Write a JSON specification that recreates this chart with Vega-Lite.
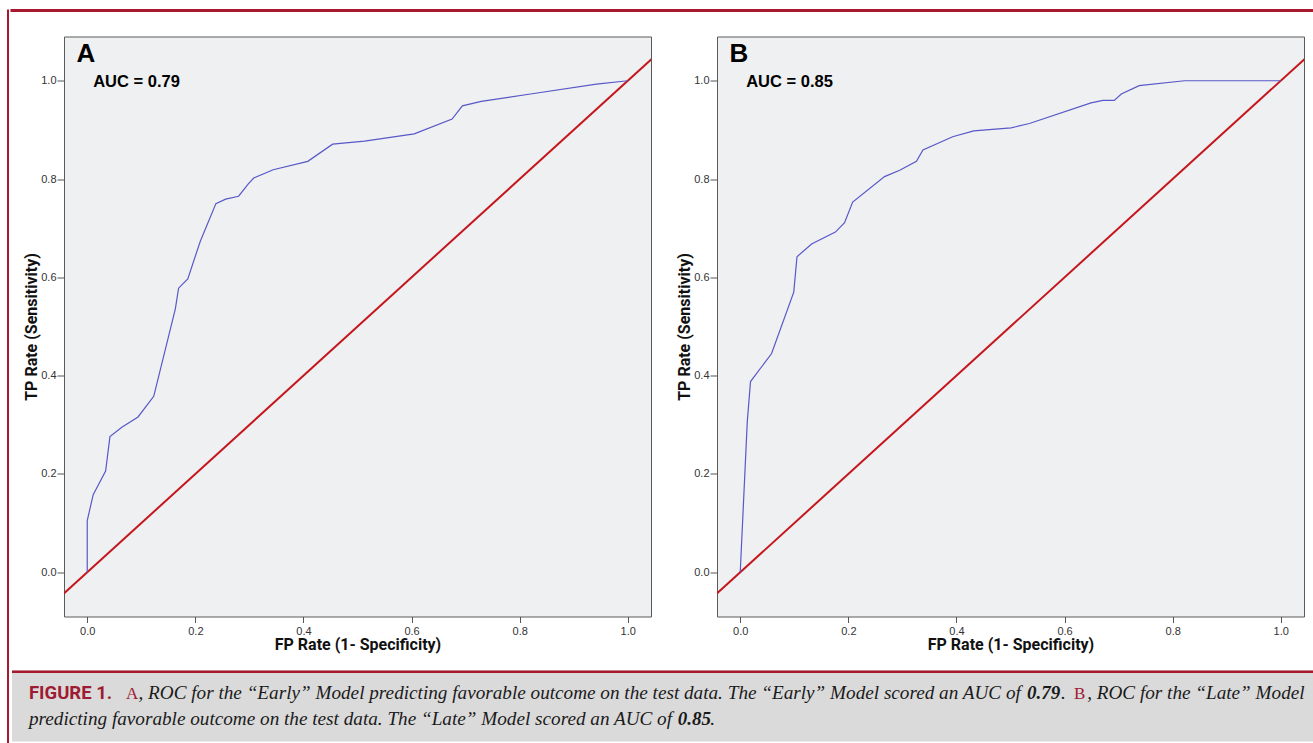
{
  "$schema": "https://vega.github.io/schema/vega-lite/v6.json",
  "background": "white",
  "padding": {"left": 7, "top": 8.5, "right": 0, "bottom": 0},
  "config": {
    "view": {"stroke": null},
    "axis": {"grid": false, "domain": false, "tickColor": "#555", "labelFont": "Liberation Sans", "labelFontSize": 11, "labelColor": "#333", "titleFont": "Roboto", "titleFontSize": 16, "titleFontWeight": "bold", "titleColor": "#111"}
  },
  "datasets": {
    "roc": [
      {"panel": "A", "i": 0, "x": 0, "y": 0},
      {"panel": "A", "i": 1, "x": 0, "y": 0.105},
      {"panel": "A", "i": 2, "x": 0.011, "y": 0.158},
      {"panel": "A", "i": 3, "x": 0.034, "y": 0.206},
      {"panel": "A", "i": 4, "x": 0.042, "y": 0.276},
      {"panel": "A", "i": 5, "x": 0.064, "y": 0.295},
      {"panel": "A", "i": 6, "x": 0.094, "y": 0.316},
      {"panel": "A", "i": 7, "x": 0.123, "y": 0.358},
      {"panel": "A", "i": 8, "x": 0.163, "y": 0.536},
      {"panel": "A", "i": 9, "x": 0.169, "y": 0.578},
      {"panel": "A", "i": 10, "x": 0.186, "y": 0.597},
      {"panel": "A", "i": 11, "x": 0.209, "y": 0.673},
      {"panel": "A", "i": 12, "x": 0.238, "y": 0.75},
      {"panel": "A", "i": 13, "x": 0.256, "y": 0.759},
      {"panel": "A", "i": 14, "x": 0.28, "y": 0.765},
      {"panel": "A", "i": 15, "x": 0.298, "y": 0.79},
      {"panel": "A", "i": 16, "x": 0.308, "y": 0.802},
      {"panel": "A", "i": 17, "x": 0.344, "y": 0.819},
      {"panel": "A", "i": 18, "x": 0.408, "y": 0.836},
      {"panel": "A", "i": 19, "x": 0.454, "y": 0.871},
      {"panel": "A", "i": 20, "x": 0.513, "y": 0.877},
      {"panel": "A", "i": 21, "x": 0.605, "y": 0.892},
      {"panel": "A", "i": 22, "x": 0.675, "y": 0.922},
      {"panel": "A", "i": 23, "x": 0.694, "y": 0.949},
      {"panel": "A", "i": 24, "x": 0.729, "y": 0.958},
      {"panel": "A", "i": 25, "x": 0.82, "y": 0.973},
      {"panel": "A", "i": 26, "x": 0.942, "y": 0.993},
      {"panel": "A", "i": 27, "x": 1.0, "y": 1.0},
      {"panel": "B", "i": 0, "x": 0, "y": 0},
      {"panel": "B", "i": 1, "x": 0.013, "y": 0.306},
      {"panel": "B", "i": 2, "x": 0.019, "y": 0.388},
      {"panel": "B", "i": 3, "x": 0.058, "y": 0.445},
      {"panel": "B", "i": 4, "x": 0.099, "y": 0.57},
      {"panel": "B", "i": 5, "x": 0.105, "y": 0.642},
      {"panel": "B", "i": 6, "x": 0.132, "y": 0.668},
      {"panel": "B", "i": 7, "x": 0.176, "y": 0.692},
      {"panel": "B", "i": 8, "x": 0.193, "y": 0.711},
      {"panel": "B", "i": 9, "x": 0.208, "y": 0.753},
      {"panel": "B", "i": 10, "x": 0.267, "y": 0.805},
      {"panel": "B", "i": 11, "x": 0.295, "y": 0.818},
      {"panel": "B", "i": 12, "x": 0.326, "y": 0.836},
      {"panel": "B", "i": 13, "x": 0.338, "y": 0.859},
      {"panel": "B", "i": 14, "x": 0.393, "y": 0.886},
      {"panel": "B", "i": 15, "x": 0.432, "y": 0.898},
      {"panel": "B", "i": 16, "x": 0.501, "y": 0.904},
      {"panel": "B", "i": 17, "x": 0.535, "y": 0.913},
      {"panel": "B", "i": 18, "x": 0.649, "y": 0.955},
      {"panel": "B", "i": 19, "x": 0.671, "y": 0.96},
      {"panel": "B", "i": 20, "x": 0.692, "y": 0.96},
      {"panel": "B", "i": 21, "x": 0.705, "y": 0.973},
      {"panel": "B", "i": 22, "x": 0.738, "y": 0.99},
      {"panel": "B", "i": 23, "x": 0.822, "y": 1.0},
      {"panel": "B", "i": 24, "x": 1.0, "y": 1.0}
    ],
    "ref": [{"x": -0.1, "y": -0.1}, {"x": 1.1, "y": 1.1}],
    "ann": [
      {"panel": "A", "kind": "letter", "label": "A", "x": -0.02, "y": 1.039},
      {"panel": "A", "kind": "auc", "label": "AUC = 0.79", "x": 0.011, "y": 0.987},
      {"panel": "B", "kind": "letter", "label": "B", "x": -0.02, "y": 1.039},
      {"panel": "B", "kind": "auc", "label": "AUC = 0.85", "x": 0.011, "y": 0.987}
    ],
    "caption": [
      {"part": "label", "x": 0.013, "y": 0.408, "text": "FIGURE 1."},
      {"part": "letter", "x": 0.0875, "y": 0.408, "text": "A"},
      {"part": "body", "x": 0.097, "y": 0.408, "text": ", ROC for the “Early” Model predicting favorable outcome on the test data. The “Early” Model scored an AUC of"},
      {"part": "value", "x": 0.7784, "y": 0.408, "text": "0.79"},
      {"part": "body", "x": 0.8045, "y": 0.408, "text": "."},
      {"part": "letter", "x": 0.8145, "y": 0.408, "text": "B"},
      {"part": "body", "x": 0.8245, "y": 0.408, "text": ", ROC for the “Late” Model"},
      {"part": "body", "x": 0.013, "y": 0.77, "text": "predicting favorable outcome on the test data. The “Late” Model scored an AUC of"},
      {"part": "value", "x": 0.5105, "y": 0.77, "text": "0.85"},
      {"part": "body", "x": 0.5355, "y": 0.77, "text": "."}
    ]
  },
  "spacing": 0,
  "resolve": {"scale": {"x": "independent", "y": "independent"}},
  "hconcat": [
    {
      "width": 0.01, "height": 732,
      "view": {"stroke": "#a6192e", "strokeWidth": 2, "fill": null},
      "data": {"values": []},
      "mark": {"type": "point", "opacity": 0},
      "encoding": {}
    },
    {
      "spacing": 17,
      "resolve": {"scale": {"x": "independent", "y": "independent"}},
      "vconcat": [
        {
          "spacing": 23,
          "resolve": {"scale": {"x": "independent", "y": "independent"}},
          "vconcat": [
            {
              "width": 1300, "height": 0.01,
              "view": {"stroke": "#a6192e", "strokeWidth": 3, "fill": null},
              "data": {"values": []},
              "mark": {"type": "point", "opacity": 0},
              "encoding": {}
            },
            {
              "spacing": 10,
              "resolve": {"scale": {"x": "independent", "y": "independent"}},
              "hconcat": [
                {
                  "width": 0.01, "height": 1,
                  "data": {"values": []},
                  "mark": {"type": "point", "opacity": 0},
                  "encoding": {}
                },
                {
                  "spacing": 24,
                  "resolve": {"scale": {"x": "independent", "y": "independent"}},
                  "hconcat": [
                    {
                      "width": 587, "height": 580,
                      "view": {"fill": "#eff0f2", "stroke": "#5a5a5a", "strokeWidth": 1},
                      "encoding": {
                        "x": {"field": "x", "type": "quantitative", "scale": {"domain": [-0.043, 1.043], "nice": false, "zero": false}, "axis": {"values": [0, 0.2, 0.4, 0.6, 0.8, 1], "format": ".1f", "title": "FP Rate (1- Specificity)", "tickSize": 6, "labelPadding": 3, "titlePadding": 0}},
                        "y": {"field": "y", "type": "quantitative", "scale": {"domain": [-0.09, 1.09], "nice": false, "zero": false}, "axis": {"values": [0, 0.2, 0.4, 0.6, 0.8, 1], "format": ".1f", "title": "TP Rate (Sensitivity)", "tickSize": 7, "labelPadding": 1, "titlePadding": 1}}
                      },
                      "layer": [
                        {"data": {"name": "ref"}, "mark": {"type": "line", "color": "#c4161c", "strokeWidth": 2, "clip": true}},
                        {"data": {"name": "roc"}, "transform": [{"filter": "datum.panel === 'A'"}], "mark": {"type": "line", "color": "#5858c8", "strokeWidth": 1.2}, "encoding": {"order": {"field": "i", "type": "quantitative"}}},
                        {"data": {"name": "ann"}, "transform": [{"filter": "datum.panel === 'A' && datum.kind === 'letter'"}], "mark": {"type": "text", "align": "left", "baseline": "alphabetic", "font": "Liberation Sans", "fontWeight": "bold", "fontSize": 26, "color": "#000"}, "encoding": {"text": {"field": "label"}}},
                        {"data": {"name": "ann"}, "transform": [{"filter": "datum.panel === 'A' && datum.kind === 'auc'"}], "mark": {"type": "text", "align": "left", "baseline": "alphabetic", "font": "Liberation Sans", "fontWeight": "bold", "fontSize": 16.5, "color": "#000"}, "encoding": {"text": {"field": "label"}}}
                      ]
                    },
                    {
                      "width": 587, "height": 580,
                      "view": {"fill": "#eff0f2", "stroke": "#5a5a5a", "strokeWidth": 1},
                      "encoding": {
                        "x": {"field": "x", "type": "quantitative", "scale": {"domain": [-0.043, 1.043], "nice": false, "zero": false}, "axis": {"values": [0, 0.2, 0.4, 0.6, 0.8, 1], "format": ".1f", "title": "FP Rate (1- Specificity)", "tickSize": 6, "labelPadding": 3, "titlePadding": 0}},
                        "y": {"field": "y", "type": "quantitative", "scale": {"domain": [-0.09, 1.09], "nice": false, "zero": false}, "axis": {"values": [0, 0.2, 0.4, 0.6, 0.8, 1], "format": ".1f", "title": "TP Rate (Sensitivity)", "tickSize": 7, "labelPadding": 1, "titlePadding": 1}}
                      },
                      "layer": [
                        {"data": {"name": "ref"}, "mark": {"type": "line", "color": "#c4161c", "strokeWidth": 2, "clip": true}},
                        {"data": {"name": "roc"}, "transform": [{"filter": "datum.panel === 'B'"}], "mark": {"type": "line", "color": "#5858c8", "strokeWidth": 1.2}, "encoding": {"order": {"field": "i", "type": "quantitative"}}},
                        {"data": {"name": "ann"}, "transform": [{"filter": "datum.panel === 'B' && datum.kind === 'letter'"}], "mark": {"type": "text", "align": "left", "baseline": "alphabetic", "font": "Liberation Sans", "fontWeight": "bold", "fontSize": 26, "color": "#000"}, "encoding": {"text": {"field": "label"}}},
                        {"data": {"name": "ann"}, "transform": [{"filter": "datum.panel === 'B' && datum.kind === 'auc'"}], "mark": {"type": "text", "align": "left", "baseline": "alphabetic", "font": "Liberation Sans", "fontWeight": "bold", "fontSize": 16.5, "color": "#000"}, "encoding": {"text": {"field": "label"}}}
                      ]
                    }
                  ]
                }
              ]
            }
          ]
        },
        {
          "width": 1304, "height": 71,
          "view": {"fill": "#dadada", "stroke": null},
          "layer": [
            {
              "data": {"values": [{"edge": 0}]},
              "mark": {"type": "rule", "color": "#a6192e", "strokeWidth": 5, "clip": true},
              "encoding": {"y": {"field": "edge", "type": "quantitative", "scale": {"domain": [0, 1], "reverse": true, "nice": false, "zero": false}, "axis": null}}
            },
            {
              "data": {"name": "caption"},
              "encoding": {
                "x": {"field": "x", "type": "quantitative", "scale": {"domain": [0, 1], "nice": false, "zero": false}, "axis": null},
                "y": {"field": "y", "type": "quantitative", "scale": {"domain": [0, 1], "reverse": true, "nice": false, "zero": false}, "axis": null},
                "text": {"field": "text"}
              },
              "layer": [
                {"transform": [{"filter": "datum.part === 'label'"}], "mark": {"type": "text", "align": "left", "baseline": "alphabetic", "font": "Roboto", "fontWeight": "bold", "fontSize": 18.5, "color": "#9e1b32"}},
                {"transform": [{"filter": "datum.part === 'letter'"}], "mark": {"type": "text", "align": "left", "baseline": "alphabetic", "font": "Liberation Serif", "fontSize": 17, "color": "#9e1b32"}},
                {"transform": [{"filter": "datum.part === 'body'"}], "mark": {"type": "text", "align": "left", "baseline": "alphabetic", "font": "Liberation Serif", "fontStyle": "italic", "fontSize": 19.2, "color": "#1a1a1a"}},
                {"transform": [{"filter": "datum.part === 'value'"}], "mark": {"type": "text", "align": "left", "baseline": "alphabetic", "font": "Liberation Serif", "fontStyle": "italic", "fontWeight": "bold", "fontSize": 19, "color": "#1a1a1a"}}
              ]
            }
          ]
        }
      ]
    }
  ]
}
